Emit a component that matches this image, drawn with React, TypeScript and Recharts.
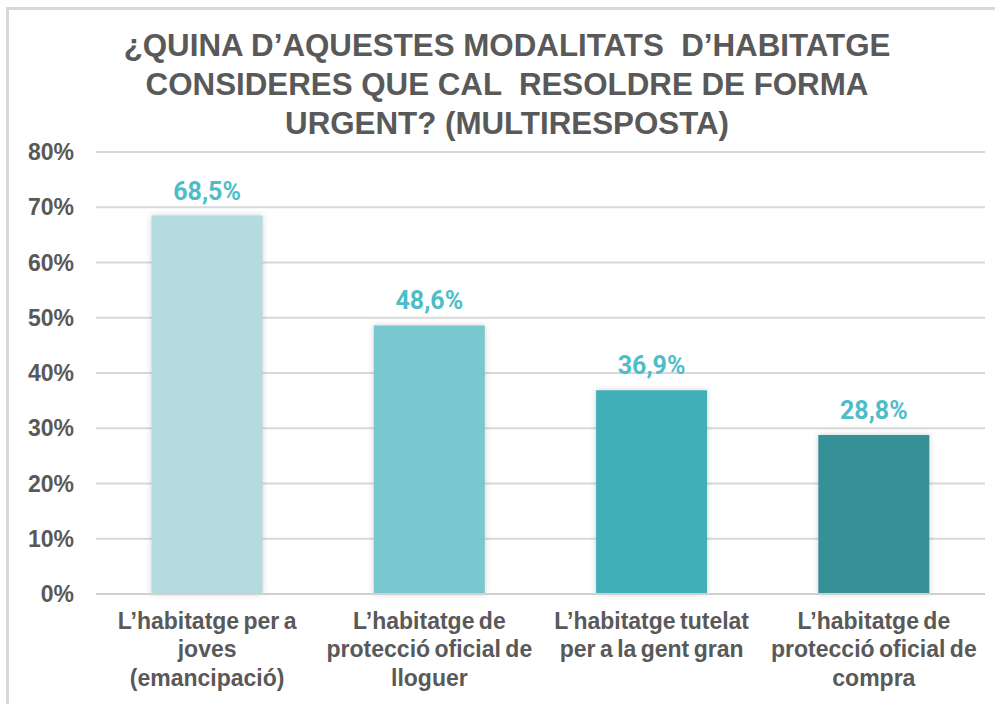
import { BarChart, Bar, XAxis, YAxis, CartesianGrid, Cell, LabelList } from "recharts";

const categories = [
  "L’habitatge per a\njoves\n(emancipació)",
  "L’habitatge de\nprotecció oficial de\nlloguer",
  "L’habitatge tutelat\nper a la gent gran",
  "L’habitatge de\nprotecció oficial de\ncompra",
];
const values = [68.5, 48.6, 36.9, 28.8];
const barColors = ["#B4DBE0", "#79C7CF", "#40AFB8", "#359098"];
const yTicks = [0, 10, 20, 30, 40, 50, 60, 70, 80];
const titleLines = [
  "¿QUINA D’AQUESTES MODALITATS  D’HABITATGE",
  "CONSIDERES QUE CAL  RESOLDRE DE FORMA",
  "URGENT? (MULTIRESPOSTA)",
];

const data = categories.map((c, i) => ({ name: c, value: values[i] }));

const grey = "#595959";
const font = "'Liberation Sans', Arial, sans-serif";

const CatTick = ({ x, y, payload }: any) => {
  const lines = String(payload.value).split("\n");
  return (
    <text x={x} y={y + 35} textAnchor="middle" fill={grey} fontFamily={font} fontWeight="bold" fontSize={23} wordSpacing={-2}>
      {lines.map((l, i) => (
        <tspan key={i} x={x} dy={i === 0 ? 0 : 28.3}>{l}</tspan>
      ))}
    </text>
  );
};

export default function App() {
  return (
    <div style={{ position: "absolute", left: 0, top: 0, width: 995, height: 704, overflow: "hidden", background: "#fff" }}>
      <div style={{ position: "absolute", left: 6, top: 7, width: 1000, height: 710, borderLeft: "3px solid #D9D9D9", borderTop: "3px solid #D9D9D9" }} />
      <div style={{ position: "absolute", left: 7, top: 26, width: 1000, textAlign: "center", fontFamily: font, fontWeight: "bold", fontSize: 31.3, lineHeight: "39px", color: grey, whiteSpace: "pre" }}>
        {titleLines.map((l, i) => <div key={i}>{l}</div>)}
      </div>
      <div style={{ position: "absolute", left: 0, top: 0 }}>
        <BarChart width={995} height={704} data={data} margin={{ top: 152, right: 10, bottom: 0, left: 0 }} barCategoryGap="25%">
          <CartesianGrid vertical={false} stroke="#D9D9D9" strokeWidth={2} />
          <XAxis dataKey="name" height={110} interval={0} axisLine={{ stroke: "#D0D0D0", strokeWidth: 2 }} tickLine={false} tickSize={0} tickMargin={0} tick={<CatTick />} />
          <YAxis width={96} domain={[0, 80]} ticks={yTicks} axisLine={false} tickLine={false} tickSize={0} tickMargin={22}
            tickFormatter={(v: number) => `${v}%`}
            tick={{ fill: grey, fontFamily: font, fontWeight: "bold", fontSize: 23 }} />
          <Bar dataKey="value" isAnimationActive={false}>
            {data.map((_, i) => (
              <Cell key={i} fill={barColors[i]} style={{ filter: "drop-shadow(0px 0px 3px rgba(0,0,0,0.18))" }} />
            ))}
            <LabelList dataKey="value" position="top" offset={16}
              formatter={(v: any) => `${String(v).replace(".", ",")}%`}
              style={{ fill: "#4DBDC8", fontFamily: "Roboto, sans-serif", fontWeight: "bold", fontSize: 25 }} />
          </Bar>
        </BarChart>
      </div>
    </div>
  );
}
